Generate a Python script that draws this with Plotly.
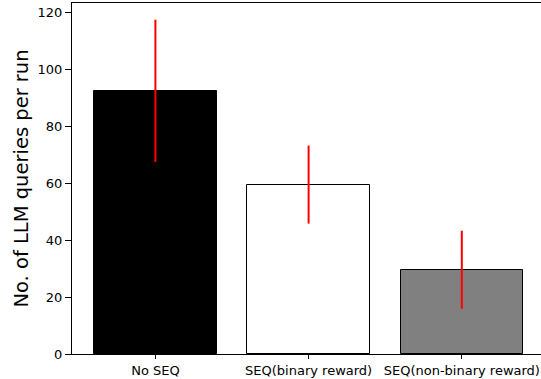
import plotly.graph_objects as go

# Mean number of LLM queries per run, with spread across runs
categories = ["No SEQ", "SEQ(binary reward)", "SEQ(non-binary reward)"]
mean_queries = [92.4, 59.5, 29.6]
query_err = [25.0, 13.7, 13.7]
bar_colors = ["#000000", "#ffffff", "#808080"]

fig = go.Figure(
    go.Bar(
        x=categories,
        y=mean_queries,
        width=0.8,
        marker=dict(color=bar_colors, line=dict(color="#000000", width=1)),
        error_y=dict(type="data", array=query_err, color="#ff0000",
                     thickness=2, width=0, visible=True),
    )
)

font = dict(family="DejaVu Sans", size=13, color="#000000")

fig.update_layout(
    width=541,
    height=379,
    margin=dict(l=72, r=0, t=3, b=25, pad=0),
    plot_bgcolor="#ffffff",
    paper_bgcolor="#ffffff",
    font=font,
    showlegend=False,
    bargap=0,
)

fig.update_xaxes(
    type="category",
    range=[-0.5445, 2.517],
    showline=True, linecolor="#000000", linewidth=1, mirror=True,
    ticks="outside", ticklen=4, tickwidth=1, tickcolor="#000000",
    showgrid=False, zeroline=False,
    tickfont=font,
)

fig.update_yaxes(
    range=[0, 123.27],
    tickvals=[0, 20, 40, 60, 80, 100, 120],
    showline=True, linecolor="#000000", linewidth=1, mirror=False,
    ticks="outside", ticklen=6, tickwidth=1, tickcolor="#000000",
    showgrid=False, zeroline=False,
    tickfont=font,
    title=dict(text="No. of LLM queries per run",
               font=dict(family="DejaVu Sans", size=19.5, color="#000000"),
               standoff=3),
)

fig.write_html("out.html")
